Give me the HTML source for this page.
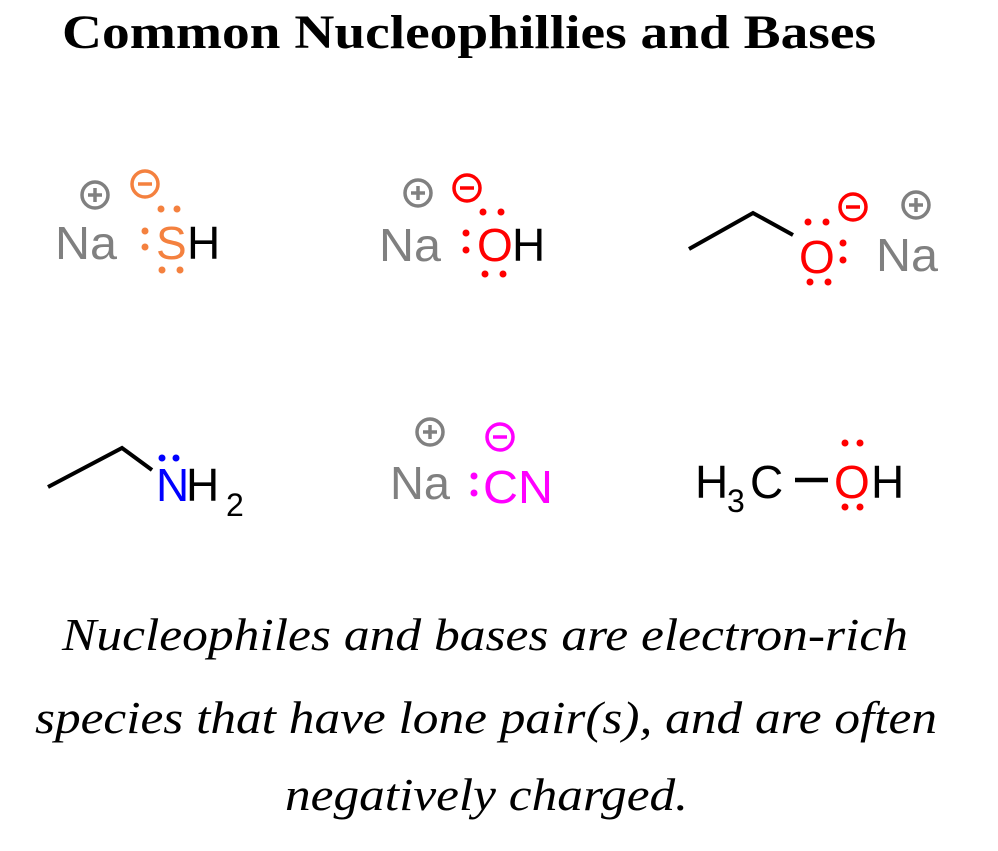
<!DOCTYPE html>
<html><head><meta charset="utf-8"><style>
html,body{margin:0;padding:0;background:#fff}
svg{display:block}
</style></head><body>
<svg width="998" height="851" viewBox="0 0 998 851" xmlns="http://www.w3.org/2000/svg">
<text x="62" y="48" style="font-family:'Liberation Serif','Times New Roman',serif;font-size:48px;font-weight:bold" textLength="814" lengthAdjust="spacingAndGlyphs">Common Nucleophillies and Bases</text>

<g style="font-family:'Liberation Sans',Arial,Helvetica,sans-serif;font-size:46px">
<!-- NaSH -->
<g fill="none" stroke-width="3.5">
<circle cx="95" cy="195" r="13" stroke="#808080"/><line x1="88" y1="195" x2="102" y2="195" stroke="#808080"/><line x1="95" y1="188" x2="95" y2="202" stroke="#808080"/>
<circle cx="145" cy="184" r="13" stroke="#f4813f"/><line x1="138" y1="184" x2="152" y2="184" stroke="#f4813f"/>
</g>
<text x="55" y="259" fill="#808080" textLength="62" lengthAdjust="spacingAndGlyphs">Na</text>
<text x="156" y="259" fill="#f4813f">S</text>
<text x="187" y="259" fill="#000">H</text>
<g fill="#f4813f"><circle cx="161" cy="209" r="3.5"/><circle cx="177" cy="209" r="3.5"/><circle cx="145" cy="231" r="3.5"/><circle cx="145" cy="247" r="3.5"/><circle cx="162" cy="270" r="3.5"/><circle cx="180" cy="270" r="3.5"/></g>

<!-- NaOH -->
<g fill="none" stroke-width="3.5">
<circle cx="418" cy="193" r="13" stroke="#808080"/><line x1="411" y1="193" x2="425" y2="193" stroke="#808080"/><line x1="418" y1="186" x2="418" y2="200" stroke="#808080"/>
<circle cx="467" cy="188" r="13" stroke="#f00"/><line x1="460" y1="188" x2="474" y2="188" stroke="#f00"/>
</g>
<text x="379" y="261" fill="#808080" textLength="62" lengthAdjust="spacingAndGlyphs">Na</text>
<text x="477" y="261" fill="#f00">O</text>
<text x="512" y="261" fill="#000">H</text>
<g fill="#f00"><circle cx="483" cy="212" r="3.5"/><circle cx="501" cy="212" r="3.5"/><circle cx="466" cy="233" r="3.5"/><circle cx="466" cy="250" r="3.5"/><circle cx="485" cy="274" r="3.5"/><circle cx="503" cy="274" r="3.5"/></g>

<!-- EtO- Na+ -->
<polyline points="689,249 753,213 793,235" fill="none" stroke="#000" stroke-width="4"/>
<text x="799" y="273" fill="#f00">O</text>
<g fill="#f00"><circle cx="808" cy="222" r="3.5"/><circle cx="826" cy="222" r="3.5"/><circle cx="843" cy="243" r="3.5"/><circle cx="843" cy="260" r="3.5"/><circle cx="810" cy="282" r="3.5"/><circle cx="828" cy="282" r="3.5"/></g>
<g fill="none" stroke-width="3.5">
<circle cx="853" cy="207" r="13" stroke="#f00"/><line x1="846" y1="207" x2="860" y2="207" stroke="#f00"/>
<circle cx="916" cy="205" r="13" stroke="#808080"/><line x1="909" y1="205" x2="923" y2="205" stroke="#808080"/><line x1="916" y1="198" x2="916" y2="212" stroke="#808080"/>
</g>
<text x="876" y="271" fill="#808080" textLength="62" lengthAdjust="spacingAndGlyphs">Na</text>

<!-- EtNH2 -->
<polyline points="48,487 122,448 152,470" fill="none" stroke="#000" stroke-width="4"/>
<text x="156" y="501" fill="#00f">N</text>
<g fill="#00f"><circle cx="162" cy="458" r="3.5"/><circle cx="176" cy="458" r="3.5"/></g>
<text x="186" y="501" fill="#000">H</text>
<text x="226" y="516" style="font-size:32px" fill="#000">2</text>

<!-- NaCN -->
<g fill="none" stroke-width="3.5">
<circle cx="430" cy="432" r="13" stroke="#808080"/><line x1="423" y1="432" x2="437" y2="432" stroke="#808080"/><line x1="430" y1="425" x2="430" y2="439" stroke="#808080"/>
<circle cx="500" cy="437" r="13" stroke="#f0f"/><line x1="493" y1="437" x2="507" y2="437" stroke="#f0f"/>
</g>
<text x="390" y="499" fill="#808080" textLength="60" lengthAdjust="spacingAndGlyphs">Na</text>
<g fill="#f0f"><circle cx="474" cy="476" r="3.5"/><circle cx="474" cy="493" r="3.5"/></g>
<text x="483" y="503" fill="#f0f" textLength="70" lengthAdjust="spacingAndGlyphs">CN</text>

<!-- MeOH -->
<text x="695" y="498" fill="#000">H</text>
<text x="727" y="512" style="font-size:32px" fill="#000">3</text>
<text x="750" y="498" fill="#000">C</text>
<line x1="795" y1="480" x2="828" y2="480" stroke="#000" stroke-width="4.5"/>
<text x="834" y="498" fill="#f00">O</text>
<text x="871" y="498" fill="#000">H</text>
<g fill="#f00"><circle cx="845" cy="443" r="3.5"/><circle cx="860" cy="443" r="3.5"/><circle cx="845" cy="507" r="3.5"/><circle cx="860" cy="507" r="3.5"/></g>
</g>

<!-- caption -->
<g style="font-family:'Liberation Serif','Times New Roman',serif;font-style:italic;font-size:46px" fill="#000">
<text x="62" y="650" textLength="846" lengthAdjust="spacingAndGlyphs">Nucleophiles and bases are electron-rich</text>
<text x="35" y="733" textLength="902" lengthAdjust="spacingAndGlyphs">species that have lone pair(s), and are often</text>
<text x="285" y="810" textLength="403" lengthAdjust="spacingAndGlyphs">negatively charged.</text>
</g>
</svg>
</body></html>
